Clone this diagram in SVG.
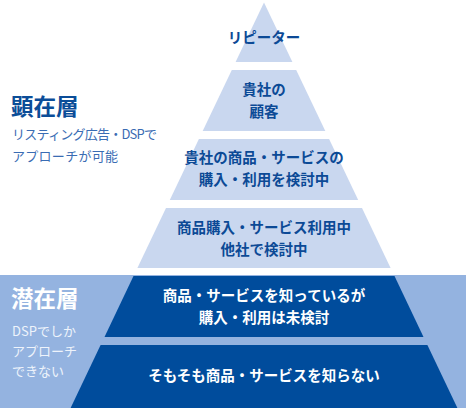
<svg xmlns="http://www.w3.org/2000/svg" width="468" height="408" viewBox="0 0 468 408">
<style>
text { font-family: "Noto Sans CJK JP", "Noto Sans", sans-serif; }
.light { fill: #c9d7ef; }
.dark { fill: #004c9c; }
.band { fill: #94b3e0; }
.lt { font-size: 14.5px; font-weight: 700; fill: #0c4a96; text-anchor: middle; }
.dt { font-size: 14.5px; font-weight: 700; fill: #ffffff; text-anchor: middle; }
.h1 { font-size: 22.5px; font-weight: 700; fill: #0b4d98; }
.h2 { font-size: 22.5px; font-weight: 700; fill: #ffffff; }
.s1 { font-size: 13px; fill: #3a6cb3; }
.s2 { font-size: 13px; fill: #eef3fb; }
</style>
<rect width="468" height="408" fill="#ffffff"/>
<rect id="band" class="band" x="0" y="275" width="466" height="133"/>
<g id="layer1">
<polygon class="light" points="264,2.5 292.4,62 235.6,62"/>
<text class="lt" x="264" y="43">リピーター</text>
</g>
<g id="layer2">
<polygon class="light" points="231.8,70 296.2,70 325.3,131 202.7,131"/>
<text class="lt" x="264" y="95">貴社の</text>
<text class="lt" x="264" y="117">顧客</text>
</g>
<g id="layer3">
<polygon class="light" points="198.9,139 329.1,139 358.2,200 169.8,200"/>
<text class="lt" x="264" y="163">貴社の商品・サービスの</text>
<text class="lt" x="264" y="185">購入・利用を検討中</text>
</g>
<g id="layer4">
<polygon class="light" points="166,208 362,208 390.6,268 137.4,268"/>
<text class="lt" x="264" y="233">商品購入・サービス利用中</text>
<text class="lt" x="264" y="255">他社で検討中</text>
</g>
<g id="layer5">
<polygon class="dark" points="133.5,276 394.5,276 423.5,337 104.5,337"/>
<text class="dt" x="264" y="301">商品・サービスを知っているが</text>
<text class="dt" x="264" y="323">購入・利用は未検討</text>
</g>
<g id="layer6">
<polygon class="dark" points="100.6,345 427.4,345 457.4,408 70.6,408"/>
<text class="dt" x="264" y="381">そもそも商品・サービスを知らない</text>
</g>
<g id="label-kenzai">
<text class="h1" x="11" y="115">顕在層</text>
<text class="s1" x="12" y="139" textLength="145" lengthAdjust="spacing">リスティング広告・DSPで</text>
<text class="s1" x="12" y="161" textLength="106" lengthAdjust="spacing">アプローチが可能</text>
</g>
<g id="label-senzai">
<text class="h2" x="11" y="307">潜在層</text>
<text class="s2" x="12" y="336">DSPでしか</text>
<text class="s2" x="12" y="356">アプローチ</text>
<text class="s2" x="12" y="376">できない</text>
</g>
</svg>
